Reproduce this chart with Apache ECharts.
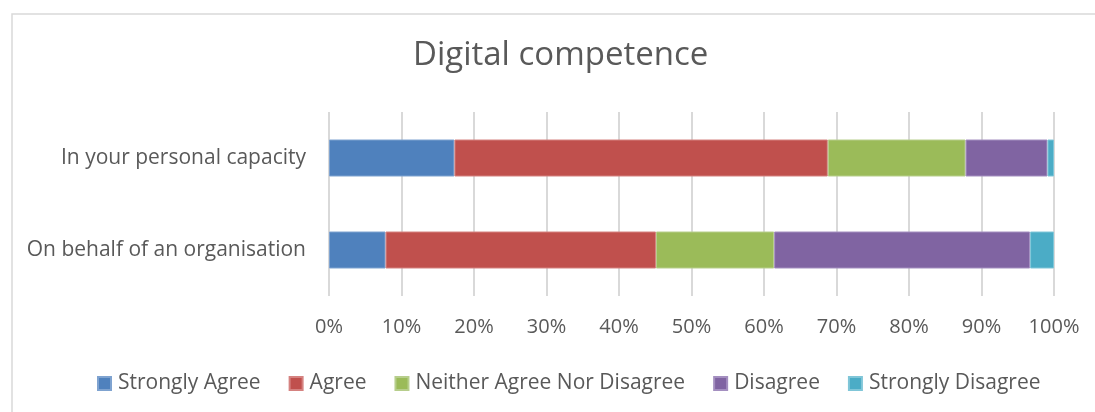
<!DOCTYPE html>
<html>
<head>
<meta charset="utf-8">
<script src="https://cdn.jsdelivr.net/npm/echarts@6/dist/echarts.min.js"></script>
<style>
  html, body { margin: 0; padding: 0; background: #fff; }
  #chart { width: 1095px; height: 412px; }
</style>
</head>
<body>
<div id="chart"></div>
<script>
// Respondent groups (top to bottom)
const categories = ['In your personal capacity', 'On behalf of an organisation'];

// Share of answers per group, in percent
const stronglyAgree = [17.3, 7.8];
const agree = [51.5, 37.3];
const neither = [19.0, 16.3];
const disagree = [11.3, 35.3];
const stronglyDisagree = [0.9, 3.3];

const seriesNames = ['Strongly Agree', 'Agree', 'Neither Agree Nor Disagree', 'Disagree', 'Strongly Disagree'];
const seriesValues = [stronglyAgree, agree, neither, disagree, stronglyDisagree];
const colors = ['#4F81BD', '#C0504D', '#9BBB59', '#8064A2', '#4BACC6'];
const borders = ['#7FA3D0', '#D58280', '#B7CE8C', '#A48FC0', '#80C6D8'];

const font = '"Open Sans", "DejaVu Sans", sans-serif';
const textColor = '#595959';

const chart = echarts.init(document.getElementById('chart'), null, { renderer: 'canvas' });

chart.setOption({
  animation: false,
  backgroundColor: '#ffffff',
  textStyle: { fontFamily: font },
  title: {
    text: 'Digital competence',
    left: 413,
    top: 39,
    padding: 0,
    textStyle: { fontFamily: font, fontSize: 33, fontWeight: 'normal', color: textColor }
  },
  graphic: [{
    type: 'rect',
    shape: { x: 12, y: 14, width: 1100, height: 420 },
    style: { fill: 'transparent', stroke: '#d9d9d9', lineWidth: 1.5 },
    silent: true
  }],
  legend: {
    top: 368,
    left: 92,
    itemWidth: 13,
    itemHeight: 13,
    itemGap: 28,
    icon: 'rect',
    textStyle: { fontFamily: font, fontSize: 21, color: textColor, padding: [0, 0, 0, 2] },
    data: seriesNames
  },
  grid: { left: 329, right: 41, top: 112, bottom: 116, containLabel: false },
  xAxis: {
    type: 'value',
    min: 0,
    max: 100,
    interval: 10,
    axisLine: { show: false },
    axisTick: { show: false },
    axisLabel: {
      formatter: '{value}%',
      fontFamily: font,
      fontSize: 20,
      color: textColor,
      margin: 21
    },
    splitLine: { show: true, lineStyle: { color: '#d9d9d9', width: 2 } }
  },
  yAxis: {
    type: 'category',
    inverse: true,
    data: categories,
    axisLine: { show: false },
    axisTick: { show: false },
    axisLabel: { fontFamily: font, fontSize: 21, color: textColor, margin: 23 }
  },
  series: seriesNames.map((name, i) => ({
    name: name,
    type: 'bar',
    stack: 'total',
    barWidth: 37,
    data: seriesValues[i],
    itemStyle: { color: colors[i], borderColor: borders[i], borderWidth: 1 }
  }))
});
</script>
</body>
</html>
